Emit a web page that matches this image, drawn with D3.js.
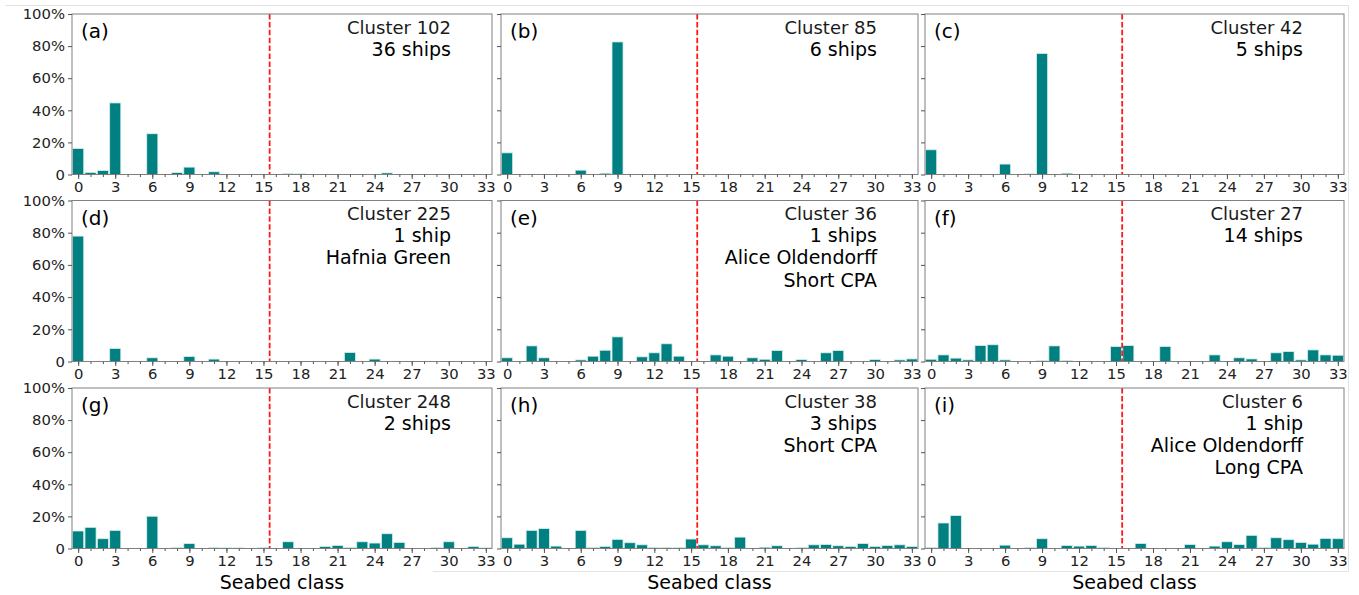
<!DOCTYPE html>
<html>
<head>
<meta charset="utf-8">
<script src="https://cdn.jsdelivr.net/npm/d3@7.9.0/dist/d3.min.js"></script>
<style>
  body { margin: 0; background: #fff; }
  svg { display: block; font-family: "DejaVu Sans", sans-serif; }
  .tick text { fill: #222; }
</style>
</head>
<body>
<svg id="chart" width="1359" height="595"></svg>
<script>
// seabed classes on the x axis
const classes = [0,1,2,3,4,5,6,7,8,9,10,11,12,13,14,15,16,17,18,19,20,21,22,23,24,25,26,27,28,29,30,31,32,33];
const majorTicks = [0,3,6,9,12,15,18,21,24,27,30,33];
const yTicks = [0,20,40,60,80,100];

// share of time per seabed class (%), one array per cluster
const cluster102 = [16.2,1.3,2.5,44.6,0,0,25.4,0,1.2,4.6,0,1.7,0,0,0,0,0,0.6,0.4,0,0,0,0,0,0,1.0,0,0,0,0,0,0,0,0];
const cluster85  = [13.5,0,0,0,0,0,2.7,0,0.8,82.6,0,0,0,0,0,0,0,0,0,0,0,0,0,0,0,0,0,0,0,0,0,0,0,0];
const cluster42  = [15.4,0,0,0,0,0,6.5,0,0.4,75.4,0,0.8,0,0,0,0,0,0,0,0,0,0,0,0,0,0,0,0,0,0,0,0,0,0];
const cluster225 = [77.9,0,0,8.1,0,0,2.3,0,0,3.1,0,1.5,0,0,0,0,0,0,0,0,0,0,5.6,0,1.5,0,0,0,0,0,0,0,0,0];
const cluster36  = [2.3,0,9.7,2.3,0,0,1.0,3.3,7.0,15.3,0,2.9,5.4,11.0,3.3,0,0,4.1,3.3,0,2.3,1.4,6.8,0,1.2,0,5.4,6.8,0,0,1.2,0,1.0,1.6];
const cluster27  = [1.4,4.1,2.1,1.0,9.9,10.4,1.0,0,0,0.6,9.7,0.6,0,0,0,9.3,9.9,0,0,9.3,0,0,0,4.1,0,2.3,1.6,0,5.4,6.2,1.0,7.2,4.1,3.9];
const cluster248 = [10.9,13.2,6.1,11.3,0,0,20.1,0,0.6,3.1,0,0.6,0.4,0.4,0,0.6,0,4.2,0,0,1.3,1.9,0.6,4.2,3.4,9.2,3.8,0,0,0.6,4.2,0,1.3,0.4];
const cluster38  = [6.7,2.7,11.3,12.4,1.5,0.2,11.3,0.6,1.3,5.7,3.6,2.3,0.6,0.6,0.6,5.9,2.3,1.7,0.6,7.1,0.2,0.8,1.7,0.2,0.6,2.3,2.5,1.7,1.3,3.1,1.3,1.9,2.3,1.3];
const cluster6   = [0.6,15.9,20.5,0,0,0,2.1,0,0.6,6.1,0,1.9,1.5,1.9,0.6,0,0,3.1,0,0,0,2.5,0,1.5,4.2,2.5,8.2,0.6,6.7,5.5,3.8,2.7,6.3,6.1];

const panelLetters = ['(a)','(b)','(c)','(d)','(e)','(f)','(g)','(h)','(i)'];
const panelNotes = [
  ['Cluster 102', '36 ships'],
  ['Cluster 85', '6 ships'],
  ['Cluster 42', '5 ships'],
  ['Cluster 225', '1 ship', 'Hafnia Green'],
  ['Cluster 36', '1 ships', 'Alice Oldendorff', 'Short CPA'],
  ['Cluster 27', '14 ships'],
  ['Cluster 248', '2 ships'],
  ['Cluster 38', '3 ships', 'Short CPA'],
  ['Cluster 6', '1 ship', 'Alice Oldendorff', 'Long CPA']
];
const series = [cluster102, cluster85, cluster42, cluster225, cluster36, cluster27, cluster248, cluster38, cluster6];

const boundary = 15.5; // split between the two seabed groups

// layout
const colLeft = [72, 501, 925];
const colRight = [492, 918, 1344];
const rowTop = [14, 200.5, 388];
const rowBottom = [174.5, 361.5, 548.5];

const svg = d3.select('#chart');
svg.append('rect').attr('width', 1359).attr('height', 595).attr('fill', '#fff');

// faint sub-figure borders from the original composite
const faint = svg.append('g').attr('stroke', '#e3e3e3').attr('stroke-width', 1).attr('fill', 'none');
faint.append('line').attr('x1', 5).attr('x2', 1348.5).attr('y1', 5.5).attr('y2', 5.5);
faint.append('line').attr('x1', 1348.5).attr('x2', 1348.5).attr('y1', 5.5).attr('y2', 571.5);
faint.append('line').attr('x1', 433).attr('x2', 1348.5).attr('y1', 571.5).attr('y2', 571.5);

series.forEach((values, i) => {
  const col = i % 3, row = Math.floor(i / 3);
  const x = d3.scaleLinear().domain([-0.5, 33.5]).range([colLeft[col], colRight[col]]);
  const y = d3.scaleLinear().domain([0, 100]).range([rowBottom[row], rowTop[row]]);
  const g = svg.append('g');

  // bars
  g.selectAll('rect.bar')
    .data(classes.map((c) => ({ c, v: values[c] })).filter((d) => d.v > 0))
    .join('rect')
    .attr('class', 'bar')
    .attr('x', (d) => x(d.c - 0.45))
    .attr('width', (d) => x(d.c + 0.45) - x(d.c - 0.45))
    .attr('y', (d) => y(d.v))
    .attr('height', (d) => y(0) - y(d.v))
    .attr('fill', '#008080')
    .attr('stroke', '#d9eeee')
    .attr('stroke-width', 0.8);

  // dashed separator
  g.append('line')
    .attr('x1', x(boundary)).attr('x2', x(boundary))
    .attr('y1', y(100)).attr('y2', y(0))
    .attr('stroke', '#ff1a1a')
    .attr('stroke-width', 1.8)
    .attr('stroke-dasharray', '5.5,2.4');

  // frame
  g.append('rect')
    .attr('x', colLeft[col]).attr('y', rowTop[row])
    .attr('width', colRight[col] - colLeft[col])
    .attr('height', rowBottom[row] - rowTop[row])
    .attr('fill', 'none')
    .attr('stroke', '#808080')
    .attr('stroke-width', 1);

  // x axis: minor + major ticks
  const xMinor = g.append('g').attr('transform', `translate(0,${y(0)})`)
    .call(d3.axisBottom(x).tickValues(classes).tickSize(2.5).tickFormat(''));
  xMinor.select('.domain').remove();
  xMinor.selectAll('line').attr('stroke', '#555');

  const xMajor = g.append('g').attr('transform', `translate(0,${y(0)})`)
    .call(d3.axisBottom(x).tickValues(majorTicks).tickSize(4.5).tickPadding(2));
  xMajor.select('.domain').remove();
  xMajor.selectAll('line').attr('stroke', '#555');
  xMajor.selectAll('text').attr('font-size', 14.8).attr('font-family', 'DejaVu Sans');

  // y axis
  const yAx = g.append('g').attr('transform', `translate(${colLeft[col]},0)`)
    .call(d3.axisLeft(y).tickValues(yTicks).tickSize(4).tickPadding(3)
      .tickFormat((d) => (col === 0 ? (d === 0 ? '0' : d + '%') : '')));
  yAx.select('.domain').remove();
  yAx.selectAll('line').attr('stroke', '#555');
  yAx.selectAll('text').attr('font-size', 14.8).attr('font-family', 'DejaVu Sans');

  // panel letter
  g.append('text')
    .attr('x', colLeft[col] + 9)
    .attr('y', rowTop[row] + 24)
    .attr('font-size', 20)
    .attr('fill', '#000')
    .text(panelLetters[i]);

  // annotation lines
  panelNotes[i].forEach((line, k) => {
    g.append('text')
      .attr('x', colRight[col] - 41)
      .attr('y', rowTop[row] + 19.5 + k * 22.2)
      .attr('text-anchor', 'end')
      .attr('font-size', k === 0 ? 18 : 19)
      .attr('fill', k === 0 ? '#1a1a1a' : '#000')
      .text(line);
  });

  // axis title under bottom row
  if (row === 2) {
    svg.append('text')
      .attr('x', (colLeft[col] + colRight[col]) / 2)
      .attr('y', 589)
      .attr('text-anchor', 'middle')
      .attr('font-size', 19)
      .attr('fill', '#000')
      .text('Seabed class');
  }
});
</script>
</body>
</html>
